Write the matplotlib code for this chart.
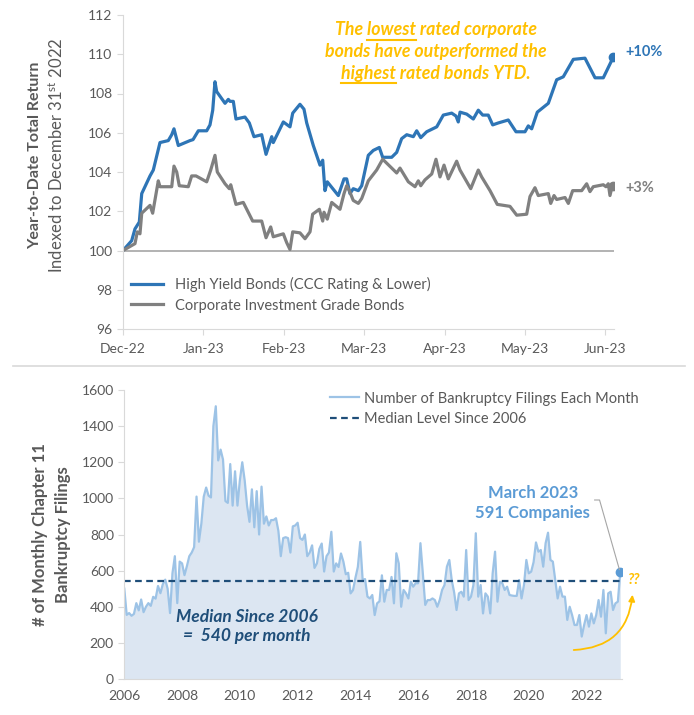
import matplotlib
matplotlib.use('Agg')
import matplotlib.pyplot as plt
import numpy as np

plt.rcParams['font.family'] = ['Lato', 'DejaVu Sans']
plt.rcParams['mathtext.fontset'] = 'custom'
plt.rcParams['mathtext.rm'] = 'Lato'
plt.rcParams['mathtext.it'] = 'Lato:italic'
plt.rcParams['mathtext.bf'] = 'Lato:bold'

# ---- top panel data (x = months since 31 Dec 2022) ----
month_labels = ['Dec-22', 'Jan-23', 'Feb-23', 'Mar-23', 'Apr-23', 'May-23', 'Jun-23']

hy_x = [0, 0.108, 0.149, 0.203, 0.233, 0.336, 0.377, 0.460, 0.563, 0.606, 0.634, 0.688,
        0.833, 0.871, 0.937, 1.041, 1.082, 1.116, 1.144, 1.165, 1.269, 1.310, 1.331, 1.372,
        1.405, 1.517, 1.571, 1.629, 1.725, 1.779, 1.850, 1.869, 1.994, 2.077, 2.111, 2.201,
        2.251, 2.285, 2.367, 2.450, 2.484, 2.512, 2.541, 2.678, 2.749, 2.782, 2.823, 2.864,
        2.927, 2.969, 3.051, 3.113, 3.188, 3.230, 3.342, 3.404, 3.466, 3.529, 3.611, 3.653,
        3.703, 3.777, 3.902, 3.984, 4.088, 4.142, 4.170, 4.192, 4.275, 4.357, 4.419, 4.474,
        4.543, 4.598, 4.668, 4.792, 4.888, 5.000, 5.041, 5.083, 5.153, 5.290, 5.394, 5.476,
        5.601, 5.746, 5.871, 5.974, 6.098]
hy_y = [100.0, 100.5, 101.1, 101.45, 102.9, 103.8, 104.1, 105.5, 105.6, 105.9, 106.2, 105.35,
        105.6, 105.65, 106.1, 106.1, 106.4, 107.15, 108.6, 108.1, 107.5, 107.7, 107.6, 107.6,
        106.7, 106.8, 106.5, 105.8, 105.9, 104.9, 105.8, 105.5, 106.55, 106.3, 107.0, 107.45,
        107.2, 106.5, 105.35, 104.35, 104.6, 103.05, 103.5, 102.8, 103.65, 103.65, 102.9, 103.15,
        103.05, 103.3, 104.85, 105.1, 105.25, 104.75, 104.75, 105.0, 105.7, 105.9, 105.8, 106.1,
        105.75, 106.05, 106.3, 106.9, 107.0, 106.85, 106.55, 107.05, 106.95, 106.7, 107.15, 106.9,
        106.9, 106.4, 106.5, 106.65, 106.05, 106.05, 106.35, 106.2, 107.05, 107.5, 108.7, 108.85,
        109.74, 109.8, 108.8, 108.8, 109.85]

ig_x = [0, 0.149, 0.178, 0.211, 0.233, 0.336, 0.369, 0.439, 0.460, 0.606, 0.634, 0.668,
        0.700, 0.812, 0.854, 0.908, 1.041, 1.091, 1.144, 1.173, 1.269, 1.322, 1.340, 1.405,
        1.496, 1.613, 1.725, 1.779, 1.837, 1.869, 1.994, 2.036, 2.077, 2.111, 2.201, 2.264,
        2.326, 2.359, 2.442, 2.484, 2.500, 2.541, 2.596, 2.699, 2.749, 2.782, 2.815, 2.864,
        2.927, 2.969, 3.051, 3.155, 3.230, 3.342, 3.404, 3.445, 3.549, 3.632, 3.673, 3.703,
        3.756, 3.840, 3.893, 3.943, 3.993, 4.046, 4.150, 4.192, 4.325, 4.419, 4.461, 4.565,
        4.655, 4.813, 4.897, 5.021, 5.062, 5.124, 5.165, 5.290, 5.320, 5.361, 5.394, 5.498,
        5.539, 5.593, 5.705, 5.767, 5.808, 5.849, 5.974, 6.007, 6.036, 6.057, 6.091, 6.098]
ig_y = [100.0, 100.35, 100.95, 100.85, 101.9, 102.3, 101.9, 103.55, 103.25, 103.25, 104.3, 104.0,
        103.3, 103.25, 103.8, 103.8, 103.5, 104.1, 104.85, 104.0, 103.4, 103.15, 103.35, 102.35,
        102.45, 101.5, 101.5, 100.65, 101.2, 100.7, 100.85, 100.4, 100.05, 100.95, 100.9, 100.6,
        100.95, 101.85, 102.1, 101.5, 101.95, 101.6, 102.45, 102.1, 102.9, 103.3, 103.05, 102.55,
        102.4, 102.65, 103.55, 104.1, 104.65, 104.2, 103.95, 104.2, 103.5, 103.25, 103.55, 103.3,
        103.6, 103.9, 104.65, 103.75, 104.35, 103.65, 104.55, 104.1, 103.15, 104.1, 103.75, 103.05,
        102.35, 102.25, 101.8, 101.85, 102.75, 103.2, 102.8, 102.9, 102.4, 102.8, 102.6, 102.7,
        102.4, 103.05, 103.05, 103.4, 103.0, 103.25, 103.35, 103.25, 103.4, 102.8, 103.4, 103.27]

# ---- bottom panel data: monthly Chapter 11 filings, Jan 2006 - Mar 2023 ----
filings = [
    500, 355, 365, 350, 360, 420, 380, 440, 370, 400, 420, 405,        # 2006
    455, 445, 515, 475, 525, 550, 500, 365, 585, 680, 420, 650,        # 2007
    640, 575, 625, 680, 700, 730, 1010, 760, 860, 1010, 1060, 1015,    # 2008
    1005, 1400, 1510, 1210, 1270, 1215, 985, 975, 1190, 960, 1150, 960,  # 2009
    1100, 1200, 1100, 960, 870, 1050, 840, 1040, 800, 1065, 860, 900,  # 2010
    850, 880, 880, 890, 820, 680, 780, 785, 780, 700, 845, 850,        # 2011
    865, 780, 770, 800, 680, 700, 740, 615, 640, 720, 750, 595,        # 2012
    680, 700, 815, 595, 640, 620, 695, 650, 580, 588, 474, 492,        # 2013
    560, 620, 759, 549, 553, 456, 446, 465, 354, 419, 430, 574,        # 2014
    428, 493, 493, 565, 419, 696, 640, 400, 493, 474, 446, 539,        # 2015
    511, 530, 530, 752, 585, 410, 437, 437, 446, 437, 400, 437,        # 2016
    493, 520, 622, 659, 548, 480, 382, 474, 483, 456, 714, 437,        # 2017
    456, 520, 807, 456, 520, 363, 474, 456, 363, 585, 705, 428,        # 2018
    539, 530, 493, 511, 465, 462, 460, 460, 548, 446, 520, 659,        # 2019
    585, 594, 647, 756, 705, 714, 622, 752, 810, 659, 650, 548,        # 2020
    446, 511, 456, 456, 327, 400, 354, 299, 299, 354, 235, 299,        # 2021
    354, 290, 363, 308, 354, 437, 345, 493, 253, 474, 483, 382,        # 2022
    419, 428, 591,                                                     # 2023
]
median_level = 540
year_ticks = [2006, 2008, 2010, 2012, 2014, 2016, 2018, 2020, 2022]

BLUE = '#2e75b6'
GRAY = '#808080'
TXT = '#595959'
ORANGE = '#ffc000'
NAVY = '#1f4e79'
LBLUE = '#9dc3e6'
FILL = '#dce6f2'
SPINE = '#d9d9d9'

fig = plt.figure(figsize=(6.94, 7.15), dpi=100)
W, H = 694, 715


def fbox(l, t, r, b):
    return [l / W, 1 - b / H, (r - l) / W, (b - t) / H]


# ================= top panel =================
ax = fig.add_axes(fbox(123, 15, 614, 329))
ax.plot(hy_x, hy_y, color=BLUE, lw=2.3, label='High Yield Bonds (CCC Rating & Lower)',
        solid_joinstyle='round')
ax.plot(ig_x, ig_y, color=GRAY, lw=2.3, label='Corporate Investment Grade Bonds',
        solid_joinstyle='round')
ax.plot(hy_x[-1], hy_y[-1], 'o', color=BLUE, ms=6)
ax.plot(ig_x[-1], ig_y[-1], 'o', color=GRAY, ms=6)
ax.axhline(100, color='#a6a6a6', lw=1.2, zorder=1)
ax.set_xlim(0, 6.107)
ax.set_ylim(96, 112)
ax.set_yticks(np.arange(96, 113, 2))
ax.set_xticks(range(len(month_labels)))
ax.set_xticklabels(month_labels)
for s in ['top', 'right']:
    ax.spines[s].set_visible(False)
for s in ['left', 'bottom']:
    ax.spines[s].set_color(SPINE)
ax.tick_params(colors=SPINE, labelcolor=TXT, labelsize=10, length=4)
ax.tick_params(axis='x', pad=6)
leg = ax.legend(loc='lower left', bbox_to_anchor=(-0.005, 0.02), frameon=False,
                fontsize=10.5, handlelength=2.2, labelcolor=TXT, borderaxespad=0.3,
                labelspacing=0.45)

ax.text(6.244, 110.11, '+10%', color=BLUE, fontweight='bold', fontsize=10.5, va='center')
ax.text(6.244, 103.17, '+3%', color=GRAY, fontweight='bold', fontsize=10.5, va='center')

fig.text(35 / W, 1 - 155 / H, 'Year-to-Date Total Return', rotation=90, ha='center',
         va='center', fontsize=11.5, fontweight='bold', color=TXT)
fig.text(57 / W, 1 - 155 / H, 'Indexed to December 31$^{\\mathrm{st}}$ 2022', rotation=90,
         ha='center', va='center', fontsize=12, color=TXT)

# annotation with underlined words
renderer = fig.canvas.get_renderer()


def text_w(s, **kw):
    t = fig.text(0, 0, s, **kw)
    w = t.get_window_extent(renderer).width
    t.remove()
    return w


note_style = dict(fontsize=12.8, fontweight='bold', fontstyle='italic', color=ORANGE)
note_lines = [('The ', 'lowest', ' rated corporate'),
              ('bonds have outperformed the', '', ''),
              ('', 'highest', ' rated bonds YTD.')]
note_y = [30, 52, 73]
space_w = text_w('a a', **note_style) - text_w('aa', **note_style)
for (pre, word, post), py in zip(note_lines, note_y):
    full = pre + word + post
    fig.text(436 / W, 1 - py / H, full, ha='center', va='center', **note_style)
    if word:
        lw_full = text_w(full, **note_style)
        left = 436 - lw_full / 2
        if pre.strip():
            left += text_w(pre.strip(), **note_style) + space_w
        ww = text_w(word, **note_style)
        fig.add_artist(plt.Line2D([left / W, (left + ww) / W],
                                  [1 - (py + 10) / H, 1 - (py + 10) / H],
                                  color=ORANGE, lw=1.5))

# separator line
fig.add_artist(plt.Line2D([13 / W, 685 / W], [1 - 366 / H, 1 - 366 / H], color=SPINE, lw=1.2))

# ================= bottom panel =================
bx = fig.add_axes(fbox(124.3, 390, 621.7, 679))
years = 2006 + np.arange(len(filings)) / 12.0
bx.fill_between(years, filings, 0, color=FILL, lw=0)
bx.plot(years, filings, color=LBLUE, lw=1.6, label='Number of Bankruptcy Filings Each Month')
bx.plot([years[0], years[-1]], [median_level, median_level], color=NAVY, lw=1.6,
        ls=(0, (3, 2)), label='Median Level Since 2006')
bx.plot(years[-1], filings[-1], 'o', color='#5b9bd5', ms=6)
bx.set_xlim(2006, years[-1] + 0.05)
bx.set_ylim(0, 1600)
bx.set_yticks(range(0, 1601, 200))
bx.set_xticks(year_ticks)
for s in ['top', 'right']:
    bx.spines[s].set_visible(False)
for s in ['left', 'bottom']:
    bx.spines[s].set_color(SPINE)
bx.tick_params(colors=SPINE, labelcolor=TXT, labelsize=10)
bx.tick_params(axis='y', length=4)
bx.tick_params(axis='x', length=0, pad=8)
bx.legend(loc='upper right', bbox_to_anchor=(1.06, 1.04), frameon=False, fontsize=10.5,
          handlelength=2.0, labelcolor=TXT, labelspacing=0.45, handletextpad=0.3)

bx.text(2010.24, 291, 'Median Since 2006\n=  540 per month', ha='center', va='center',
        fontsize=12.5, fontweight='bold', fontstyle='italic', color=NAVY, linespacing=1.25)
bx.text(2020.14, 974, 'March 2023\n591 Companies', ha='center', va='center',
        fontsize=12, fontweight='bold', color='#5b9bd5', linespacing=1.25)
bx.plot([2022.28, 2022.45, years[-1] - 0.03], [991, 991, filings[-1] + 15],
        color='#a6a6a6', lw=0.8, clip_on=False)
bx.text(2023.66, 548, '??', ha='center', va='center', fontsize=10.5, fontweight='bold',
        fontstyle='italic', color=ORANGE)
bx.annotate('', xy=(2023.6, 482), xytext=(2021.46, 160),
            arrowprops=dict(arrowstyle='-|>', connectionstyle='arc3,rad=0.45',
                            color=ORANGE, lw=1.3, mutation_scale=9),
            annotation_clip=False)

fig.text(40 / W, 1 - 535 / H, '# of Monthly Chapter 11', rotation=90, ha='center',
         va='center', fontsize=12, fontweight='bold', color=TXT)
fig.text(63 / W, 1 - 535 / H, 'Bankruptcy Filings', rotation=90, ha='center',
         va='center', fontsize=12, fontweight='bold', color=TXT)

fig.savefig('out.png', dpi=100)
